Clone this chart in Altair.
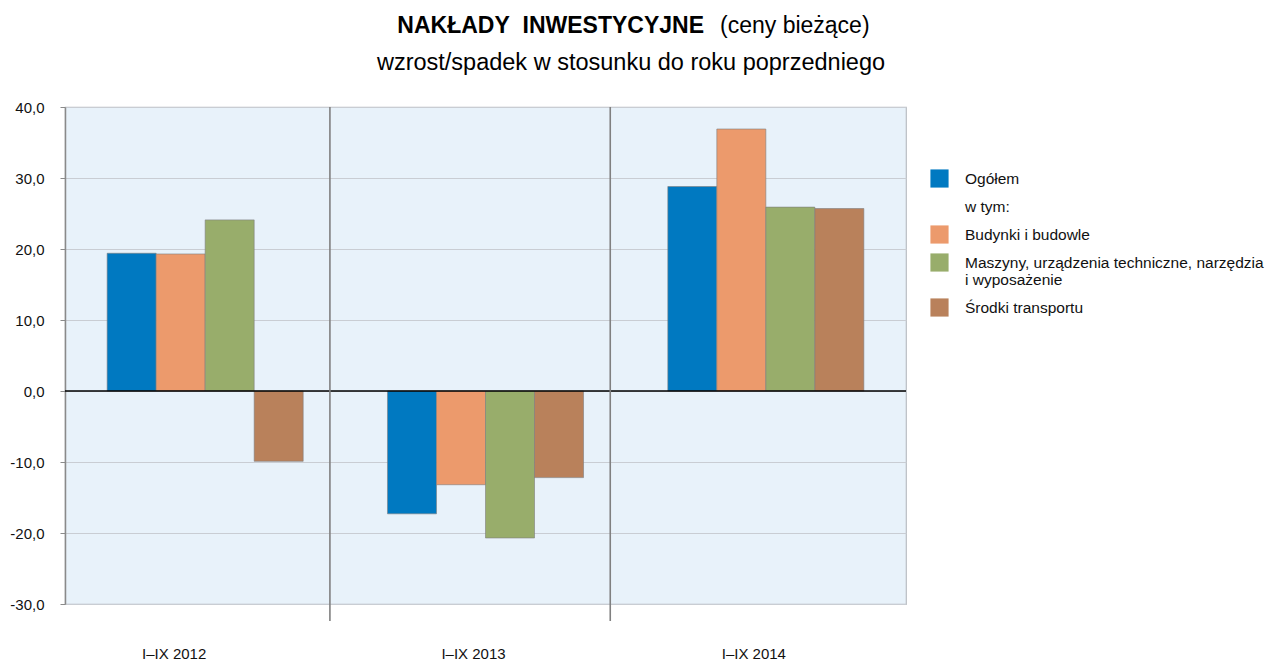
import altair as alt
import pandas as pd

# ---- data ----
periods = ["I–IX 2012", "I–IX 2013", "I–IX 2014"]
series = [
    "Ogółem",
    "Budynki i budowle",
    "Maszyny, urządzenia techniczne, narzędzia\ni wyposażenie",
    "Środki transportu",
]
note = "\u00a0\u00a0w tym:"
ogolem = [19.4, -17.3, 28.8]
budynki = [19.3, -13.2, 36.9]
maszyny = [24.1, -20.7, 25.9]
srodki = [-9.9, -12.2, 25.7]
colors = ["#0079C1", "#EC9A6C", "#98AD6B", "#B9815B"]
y_ticks = [-30, -20, -10, 0, 10, 20, 30, 40]
title_bold = "NAKŁADY\u00a0 INWESTYCYJNE"
title_normal = "(ceny bieżące)"
subtitle = "wzrost/spadek w stosunku do roku poprzedniego"

FONT = "Liberation Sans"

rows = []
for name, vals in zip(series, [ogolem, budynki, maszyny, srodki]):
    for p, v in zip(periods, vals):
        rows.append({"period": p, "series": name, "value": v})
df = pd.DataFrame(rows)

W, H = 841, 497

x_scale = alt.Scale(domain=periods, paddingInner=0, paddingOuter=0)
legend_domain = [series[0], note] + series[1:]
legend_range = [colors[0], "transparent"] + colors[1:]

bars = alt.Chart(df).mark_bar(stroke="#7d7d7d", strokeWidth=0.6).encode(
    x=alt.X(
        "period:N",
        scale=x_scale,
        axis=alt.Axis(
            title=None, ticks=False, domain=False, labelAngle=0,
            labelPadding=42, labelFontSize=15, labelFont=FONT, labelColor="#111",
            labelOffset={"condition": {"test": "datum.value === 'I–IX 2012'", "value": -31},
                         "value": -12},
        ),
    ),
    xOffset=alt.XOffset(
        "series:N",
        scale=alt.Scale(domain=series, paddingInner=0, paddingOuter=0.86),
    ),
    y=alt.Y(
        "value:Q",
        scale=alt.Scale(domain=[-30, 40], nice=False),
        axis=alt.Axis(
            title=None, values=y_ticks, tickSize=5, tickColor="#8a8a8a",
            domainColor="#8a8a8a", domainWidth=1.5, gridColor="#C9CDD3",
            labelFontSize=15, labelFont=FONT, labelColor="#111", labelPadding=16,
            labelExpr="(datum.value < 0 ? '-' : '') + replace(format(abs(datum.value), '.1f'), '.', ',')",
        ),
    ),
    color=alt.Color(
        "series:N",
        scale=alt.Scale(domain=legend_domain, range=legend_range),
        legend=alt.Legend(
            orient="none", legendX=865, legendY=62, title=None,
            symbolType="square", symbolSize=330, symbolStrokeWidth=0,
            labelFontSize=15.5, labelFont=FONT, labelColor="#111",
            labelOffset=16, rowPadding=9, labelLimit=500, padding=0,
            labelExpr="split(datum.label, '\\n')",
        ),
    ),
)

zero = alt.Chart(pd.DataFrame({"v": [0]})).mark_rule(color="#000", strokeWidth=1.3).encode(
    y="v:Q"
)

sep = alt.Chart(pd.DataFrame({"period": periods[:-1]})).mark_rule(
    color="#808080", strokeWidth=1.6
).encode(
    x=alt.X("period:N", bandPosition=0.945, scale=x_scale),
    y=alt.value(0),
    y2=alt.value(H + 17),
)

tdf = pd.DataFrame({"a": [title_bold], "b": [title_normal], "c": [subtitle]})
t1 = alt.Chart(tdf).mark_text(
    align="right", baseline="alphabetic", fontSize=23, fontWeight="bold", font=FONT, color="#000"
).encode(x=alt.value(639), y=alt.value(-74), text="a:N")
t2 = alt.Chart(tdf).mark_text(
    align="left", baseline="alphabetic", fontSize=23, font=FONT, color="#000"
).encode(x=alt.value(655), y=alt.value(-74), text="b:N")
t3 = alt.Chart(tdf).mark_text(
    align="center", baseline="alphabetic", fontSize=23.5, font=FONT, color="#000"
).encode(x=alt.value(566), y=alt.value(-37), text="c:N")

chart = alt.layer(bars, zero, sep, t1, t2, t3).properties(
    width=W, height=H,
    autosize=alt.AutoSizeParams(type="none"),
    padding={"left": 57, "top": 99, "right": 360, "bottom": 56},
).configure_view(fill="#E8F2FA", stroke="#B9BDC2", strokeWidth=1.2)

chart.save("out.html", embed_options={"renderer": "svg", "actions": False})
